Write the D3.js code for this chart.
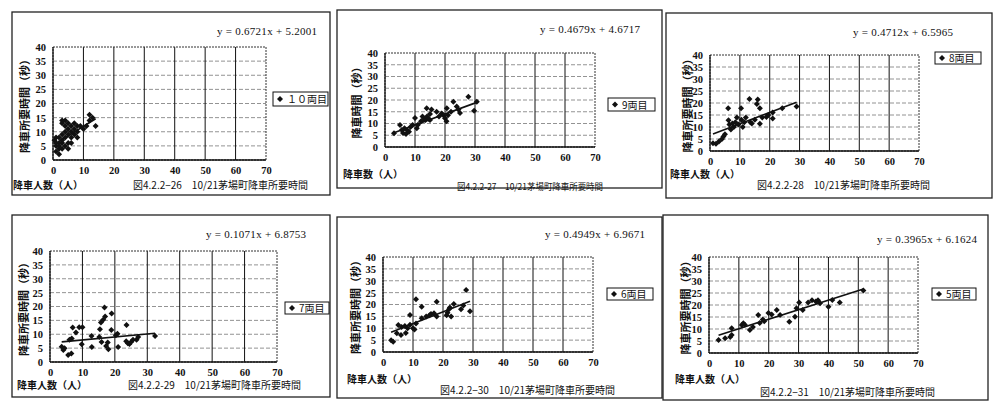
<!DOCTYPE html>
<html>
<head>
<meta charset="utf-8">
<script src="https://cdn.jsdelivr.net/npm/d3@7"></script>
<style>
  body { margin: 0; background: #fff; }
  .tick text { font-family: "Liberation Serif", serif; font-weight: bold; font-size: 10.5px; fill: #111; }
  .jp { font-family: "Noto Sans CJK JP", sans-serif; fill: #111; }
  .eq { font-family: "Liberation Serif", serif; font-size: 11px; fill: #111; }
</style>
</head>
<body>
<div id="chart"></div>
<script>
// data (x = 降車人数, y = 降車所要時間)
var cars10 = [[0.5,7],[1,3],[1,5],[1,6],[1,8],[2,2],[2,4],[2,6],[2,8],[2,5],[3,4],[3,6],[3,7],[3,9],[3,14],[3,13],[4,5],[4,8],[4,10],[4,12],[4,14],
  [5,6],[5,9],[5,11],[5,13],[5,4],[6,8],[6,10],[6,12],[6,6],[7,9],[7,11],[7,13],[8,10],[8,12],[8,8],[9,12],[10,11],[11,12],[12,16],[12,14],[13,15],[14,12]];
var cars9 = [[3,5.8],[5,9.4],[5.6,7.2],[6,6],[6.5,8],[7,5.5],[7.5,7],[8,6.5],[8.5,8.5],[9.2,9.4],[10,12.3],[10.6,8],[11,9.5],[12,11],[12.5,13],
  [13,12],[13.5,11.5],[13.9,16.5],[14,13],[14.5,12],[15,14],[15,11.5],[15.5,16],[17.2,15],[18,13],[18.9,14.3],[19.5,13.5],[20,12.2],[20.6,16.5],
  [20.5,11],[21,13.5],[22,15],[22.8,19.3],[23.9,17.2],[24.5,16],[25,14.5],[27.8,21.4],[29.7,15.4],[30.6,19.3]];
var cars8 = [[1,3.2],[2,3],[3,4],[4,5],[4.5,6],[5,7],[6.1,17.8],[6.2,12.8],[6.5,11],[7,9],[7.5,11.5],[8,10],[8.5,12],[9,14],[9.5,11],
  [10.4,17.8],[10.5,13],[11,10],[11.5,12],[12,14],[13.2,21.7],[13.5,12],[14,11.5],[15,13],[15.7,19.6],[16,21.5],[16.7,17.8],[16.7,11.4],
  [17.5,14],[18.9,14.2],[19.5,15],[21,13.5],[21,16],[24.2,17.8],[29,18.5]];
var cars7 = [[3.6,5.5],[4.1,4.3],[4.5,5],[5.6,2.5],[6.6,3.1],[6.7,8.5],[6,8],[7,12.4],[8,10.6],[9,12.5],[10,12.5],[9.8,6.4],[12.9,5.4],
  [12.8,9.4],[15.2,9],[15.4,11.8],[15.7,14.2],[15.9,7.2],[16.4,15.2],[16.8,19.6],[17,16.4],[17.3,5.8],[17.8,7],[18,4.6],[19,17.5],
  [18.9,11.5],[20.3,9.6],[20.8,10.2],[21,5.4],[23.6,13.3],[23.5,7.5],[24,6.8],[24.5,6.5],[25,7.2],[25.6,8],[26.7,8],[27.2,9],[32.4,9.4]];
var cars6 = [[2.7,5],[3.4,4.3],[4.6,7.9],[5.1,11.4],[6,7.2],[6.2,10.5],[7.3,11],[7.6,8],[8.2,10],[9,11.5],[9,15.6],[10,10],[10.5,9.5],
  [11,12],[11,22.2],[12.9,19.1],[12.9,14.2],[14.4,15],[15.5,15.5],[16,16],[17,16.3],[17.9,21.2],[17.9,15],[21.2,15.5],[21.5,16.5],
  [22,18],[22.3,18.7],[22.7,15],[23.6,20.2],[26,18],[26.8,19.6],[27.7,26.1],[29,17.2]];
var cars5 = [[3.2,5.4],[5.4,6.1],[7.1,6.7],[7.6,7.5],[7.6,10.3],[11,11.7],[11.5,12.4],[12,11.8],[13.7,9.6],[14.7,10.8],[16.5,15.8],
  [17,12.5],[18,14],[18.5,13.2],[19.9,16.7],[21,16],[22.7,17.9],[23.8,15.8],[26.9,13],[28.8,15.1],[29.3,18.6],[30.2,21],[31.4,17.9],
  [33.2,21],[34.5,22],[35.8,21.5],[36.5,22],[37.2,20.7],[40,19.3],[41.3,22.1],[43.8,21],[51.7,26]];

var slopes = [0.6721, 0.4679, 0.4712, 0.1071, 0.4949, 0.3965];
var intercepts = [5.2001, 4.6717, 6.5965, 6.8753, 6.9671, 6.1624];
var legendLabels = ["１０両目", "9両目", "8両目", "7両目", "6両目", "5両目"];
var yTitles = ["降車所要時間（秒）", "降車時間（秒）", "降車所要時間（秒）", "降車所要時間（秒）", "降車所要時間（秒）", "降車所要時間（秒）"];
var xTitles = ["降車人数（人）", "降車数（人）", "降車人数（人）", "降車人数（人）", "降車人数（人）", "降車人数（人）"];
var captions = ["図4.2.2−26　10/21茅場町降車所要時間", "図4.2.2-27　10/21茅場町降車所要時間", "図4.2.2-28　10/21茅場町降車所要時間",
  "図4.2.2-29　10/21茅場町降車所要時間", "図4.2.2−30　10/21茅場町降車所要時間", "図4.2.2−31　10/21茅場町降車所要時間"];
var xTicks = [0, 10, 20, 30, 40, 50, 60, 70];
var yTicks = [0, 5, 10, 15, 20, 25, 30, 35, 40];
var allData = [cars10, cars9, cars8, cars7, cars6, cars5];

// page layout of each scanned panel
var layout = [
  { box: [12, 12, 330, 195], plot: [53, 47, 266, 160], eq: [317, 35], leg: [273, 92, 55, 14], yt: 25, xl: [13, 189], cap: [133, 315, 189] },
  { box: [337, 10, 662, 188], plot: [385, 53, 595, 147], eq: [640, 33], leg: [608, 98, 47, 13], yt: 357, xl: [343, 178], cap: [457, 603, 190] },
  { box: [666, 13, 992, 198], plot: [710, 55, 919, 151], eq: [953, 36], leg: [935, 52, 46, 12], yt: 688, xl: [670, 178], cap: [757, 932, 189] },
  { box: [12, 215, 330, 397], plot: [50, 251, 277, 362], eq: [306, 238], leg: [285, 302, 44, 12], yt: 24, xl: [17, 389], cap: [128, 307, 389] },
  { box: [337, 217, 662, 398], plot: [383, 257, 593, 352], eq: [645, 238], leg: [607, 288, 46, 12], yt: 356, xl: [347, 383], cap: [440, 623, 394] },
  { box: [663, 215, 988, 400], plot: [709, 257, 918, 353], eq: [977, 243], leg: [932, 288, 44, 12], yt: 686, xl: [675, 383], cap: [760, 943, 396] }
];

var svg = d3.select("#chart").append("svg")
    .attr("width", 1000)
    .attr("height", 405);

var diamond = d3.symbol().type(d3.symbolSquare).size(18);

layout.forEach(function(L, i) {
    var g = svg.append("g");

    g.append("rect")
        .attr("x", L.box[0]).attr("y", L.box[1])
        .attr("width", L.box[2] - L.box[0]).attr("height", L.box[3] - L.box[1])
        .attr("fill", "#fff").attr("stroke", "#222").attr("stroke-width", 1.3);

    var x = d3.scaleLinear().domain([0, 70]).range([L.plot[0], L.plot[2]]);
    var y = d3.scaleLinear().domain([0, 40]).range([L.plot[3], L.plot[1]]);

    // grid
    g.selectAll(".hg").data(yTicks.slice(1, -1)).enter().append("line")
        .attr("x1", L.plot[0]).attr("x2", L.plot[2])
        .attr("y1", function(d) { return y(d); }).attr("y2", function(d) { return y(d); })
        .attr("stroke", "#777").attr("stroke-dasharray", "4,2").attr("stroke-width", 0.8);
    g.selectAll(".vg").data(xTicks.slice(1, -1)).enter().append("line")
        .attr("y1", L.plot[1]).attr("y2", L.plot[3])
        .attr("x1", function(d) { return x(d); }).attr("x2", function(d) { return x(d); })
        .attr("stroke", "#111").attr("stroke-width", 1);

    g.append("rect")
        .attr("x", L.plot[0]).attr("y", L.plot[1])
        .attr("width", L.plot[2] - L.plot[0]).attr("height", L.plot[3] - L.plot[1])
        .attr("fill", "none").attr("stroke", "#333").attr("stroke-dasharray", "2,1").attr("stroke-width", 1);
    g.append("line")
        .attr("x1", L.plot[0]).attr("x2", L.plot[2]).attr("y1", L.plot[3]).attr("y2", L.plot[3])
        .attr("stroke", "#111").attr("stroke-width", 1.3);
    g.append("line")
        .attr("x1", L.plot[0]).attr("x2", L.plot[0]).attr("y1", L.plot[1]).attr("y2", L.plot[3])
        .attr("stroke", "#111").attr("stroke-width", 1.3);

    // axes
    var xAxis = d3.axisBottom(x).tickValues(xTicks).tickSize(0).tickPadding(7);
    var yAxis = d3.axisLeft(y).tickValues(yTicks).tickSize(0).tickPadding(7);
    g.append("g").attr("transform", "translate(0," + L.plot[3] + ")").call(xAxis)
        .select(".domain").remove();
    g.append("g").attr("transform", "translate(" + L.plot[0] + ",0)").call(yAxis)
        .select(".domain").remove();

    // points
    var data = allData[i];
    g.selectAll(".pt").data(data).enter().append("path")
        .attr("d", diamond)
        .attr("transform", function(d) { return "translate(" + x(d[0]) + "," + y(d[1]) + ") rotate(45)"; })
        .attr("fill", "#111");

    // trend line
    var ext = d3.extent(data, function(d) { return d[0]; });
    g.append("line")
        .attr("x1", x(ext[0])).attr("y1", y(slopes[i] * ext[0] + intercepts[i]))
        .attr("x2", x(ext[1])).attr("y2", y(slopes[i] * ext[1] + intercepts[i]))
        .attr("stroke", "#111").attr("stroke-width", 1.6);

    // equation
    g.append("text").attr("class", "eq")
        .attr("x", L.eq[0]).attr("y", L.eq[1])
        .attr("text-anchor", "end")
        .attr("textLength", 100).attr("lengthAdjust", "spacing")
        .text("y = " + slopes[i].toFixed(4) + "x + " + intercepts[i].toFixed(4));

    // legend
    g.append("rect")
        .attr("x", L.leg[0]).attr("y", L.leg[1]).attr("width", L.leg[2]).attr("height", L.leg[3])
        .attr("fill", "#fff").attr("stroke", "#111").attr("stroke-width", 1);
    g.append("path")
        .attr("d", diamond)
        .attr("transform", "translate(" + (L.leg[0] + 7) + "," + (L.leg[1] + L.leg[3] / 2) + ") rotate(45)")
        .attr("fill", "#111");
    g.append("text").attr("class", "jp")
        .attr("x", L.leg[0] + 14).attr("y", L.leg[1] + L.leg[3] / 2 + 4)
        .attr("font-size", 10)
        .text(legendLabels[i]);

    // titles
    g.append("text").attr("class", "jp")
        .attr("transform", "translate(" + (L.yt + 4) + "," + ((L.plot[1] + L.plot[3]) / 2) + ") rotate(-90)")
        .attr("text-anchor", "middle")
        .attr("font-size", 11).attr("font-weight", "bold")
        .text(yTitles[i]);
    g.append("text").attr("class", "jp")
        .attr("x", L.xl[0]).attr("y", L.xl[1])
        .attr("font-size", 10).attr("font-weight", "bold")
        .text(xTitles[i]);

    // caption: shrink to the width it takes in the scan, but keep it readable
    var cap = g.append("text").attr("class", "jp")
        .attr("x", L.cap[0]).attr("y", L.cap[2])
        .attr("font-size", 10)
        .text(captions[i]);
    var w = cap.node().getComputedTextLength();
    var target = L.cap[1] - L.cap[0];
    if (w > target) {
        cap.attr("font-size", Math.max(9, 10 * target / w))
            .attr("textLength", target).attr("lengthAdjust", "spacingAndGlyphs");
    }
});
</script>
</body>
</html>
